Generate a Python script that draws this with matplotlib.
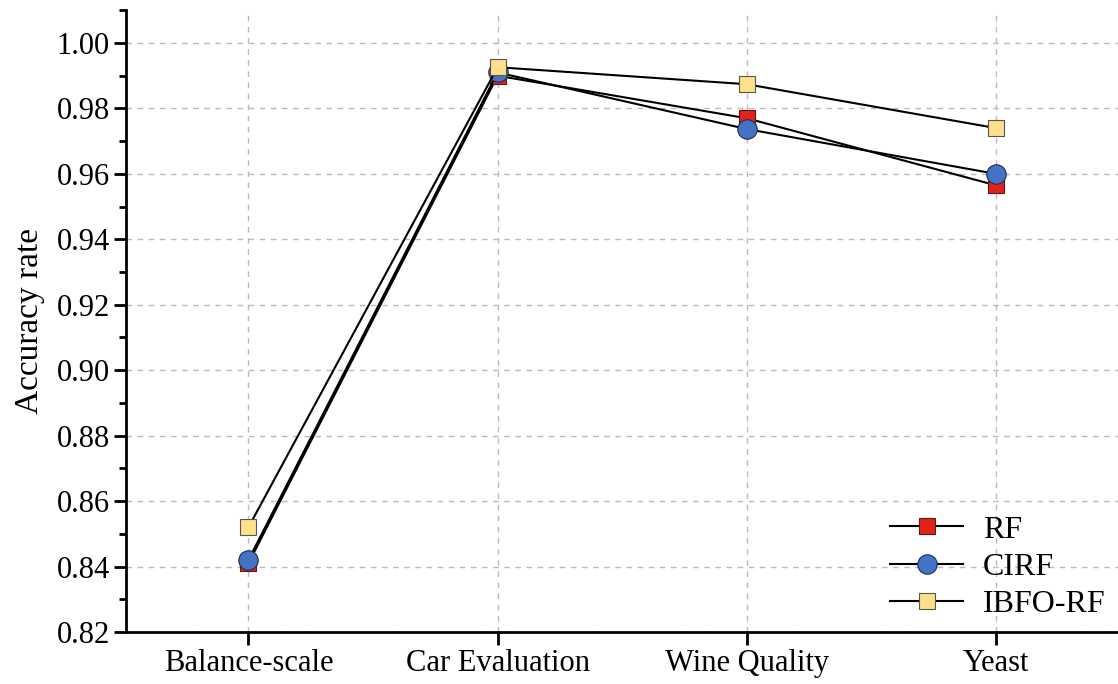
import matplotlib
matplotlib.use('Agg')
import matplotlib.pyplot as plt
from matplotlib.ticker import MultipleLocator
import numpy as np

plt.rcParams['font.family'] = ['Liberation Serif', 'DejaVu Serif']

datasets = ['Balance-scale', 'Car Evaluation', 'Wine Quality', 'Yeast']
rf      = [0.841, 0.990, 0.977, 0.9565]
cirf    = [0.842, 0.991, 0.9737, 0.960]
ibfo_rf = [0.852, 0.9926, 0.9874, 0.974]

fig = plt.figure(figsize=(11.18, 6.84), dpi=100)
ax = fig.add_axes([0.113, 0.076, 0.887, 0.909])
x = np.arange(len(datasets))

ax.plot(x, rf, color='black', lw=1.5, marker='s', ms=12, mfc='#E3231B',
        mec='#5a1a10', mew=0.8, label='RF', zorder=3)
ax.plot(x, cirf, color='black', lw=1.5, marker='o', ms=14, mfc='#4472C4',
        mec='#1f3050', mew=0.8, label='CIRF', zorder=4)
ax.plot(x, ibfo_rf, color='black', lw=1.5, marker='s', ms=12, mfc='#FFE08A',
        mec='#555555', mew=0.8, label='IBFO-RF', zorder=5)

ax.set_xlim(-0.49, 3.49)
ax.set_ylim(0.82, 1.010)
ax.set_xticks(x)
ax.set_xticklabels(datasets, fontsize=22)
ax.yaxis.set_minor_locator(MultipleLocator(0.01))
yt = np.arange(0.82, 1.001, 0.02)
ax.set_yticks(yt)
ax.set_yticklabels([f'{v:.2f}' for v in yt], fontsize=22)
ax.tick_params(axis='both', which='major', direction='out', length=9, width=2, pad=3)
ax.tick_params(axis='y', which='minor', direction='out', length=5, width=2)
ax.set_ylabel('Accuracy rate', fontsize=24, labelpad=8)

ax.grid(True, which='major', linestyle=(0, (4, 4)), color='#BBBBBB', lw=1)
ax.set_axisbelow(True)
for s in ['top', 'right']:
    ax.spines[s].set_visible(False)
for s in ['left', 'bottom']:
    ax.spines[s].set_linewidth(2)

ax.legend(loc='lower right', frameon=False, fontsize=23, handlelength=2.3,
          handletextpad=0.6, labelspacing=0.25, borderaxespad=0.1,
          borderpad=0.3)

fig.savefig('out.png', dpi=100)
